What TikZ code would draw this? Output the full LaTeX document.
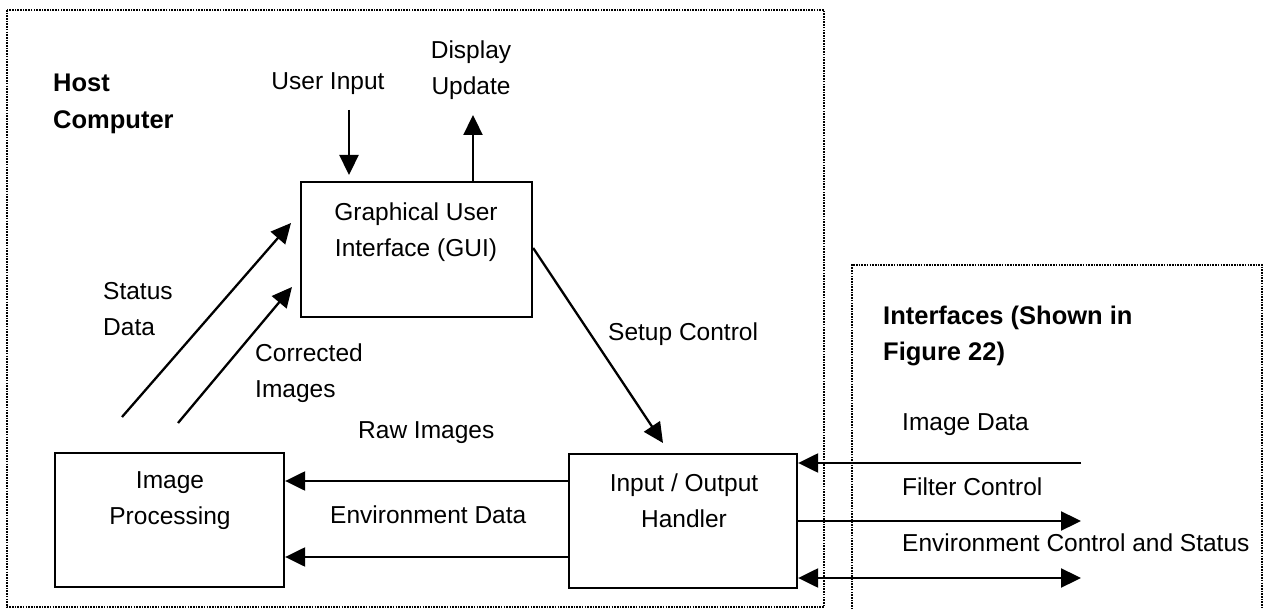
\documentclass[tikz,border=0pt]{standalone}
\usepackage{fontspec}
\setmainfont{Liberation Sans}
\usetikzlibrary{arrows.meta}
\tikzset{
  frame/.style={line width=1.6pt, dash pattern=on 1.6pt off 1.1pt},
  box/.style={draw, line width=2.3pt, inner sep=0pt},
  arr/.style={line width=2.3pt, -{Triangle[length=20pt,width=19pt]}},
  darr/.style={line width=2.3pt, {Triangle[length=20pt,width=19pt]}-{Triangle[length=20pt,width=19pt]}},
  txt/.style={font=\fontsize{24.5}{36}\selectfont, inner sep=0pt},
  btxt/.style={font=\fontsize{25.5}{36.5}\selectfont\bfseries, inner sep=0pt, align=left},
}
\begin{document}
\begin{tikzpicture}[x=1pt,y=-1pt]
\useasboundingbox (0,0) rectangle (1264,609);
% frames
\draw[frame] (7,10) rectangle (824,607);
\draw[frame] (852,612) -- (852,265) -- (1262,265) -- (1262,612);
% titles
\node[btxt, anchor=west] (host) at (53,104) {Host\\Computer};
\node[btxt, anchor=west] (intf) at (883,336) {Interfaces (Shown in\\Figure 22)};
% boxes
\node[box, minimum width=231pt, minimum height=135pt] (gui) at (416.5,249.5) {};
\node[txt, align=center] (guit) at (416,232) {Graphical User\\Interface (GUI)};
\node[box, minimum width=229pt, minimum height=134pt] (ip) at (169.5,520) {};
\node[txt, align=center] (ipt) at (170,501) {Image\\Processing};
\node[box, minimum width=228pt, minimum height=134pt] (io) at (683,521) {};
\node[txt, align=center] (iot) at (684,501) {Input / Output\\Handler};
% top arrows
\node[txt] (ui) at (328,84) {User Input};
\node[txt, align=center] (du) at (471,70) {Display\\Update};
\coordinate (uis) at (349,110);
\coordinate (uie) at (349,175);
\coordinate (dus) at (473,115);
\draw[arr] (uis) -- (uie);
\draw[arr] (gui.north -| dus) -- (dus);
% diagonal arrows
\coordinate (sd1) at (122,417);
\coordinate (sd2) at (291,223);
\coordinate (ci1) at (178,423);
\coordinate (ci2) at (292,287);
\draw[arr] (sd1) -- (sd2);
\draw[arr] (ci1) -- (ci2);
\node[txt, align=left, anchor=west] (sdl) at (103,309) {Status\\Data};
\node[txt, align=left, anchor=west] (cil) at (255,373) {Corrected\\Images};
\coordinate (sc1) at (gui.east |- 0,248);
\coordinate (sc2) at (663,443);
\draw[arr] (sc1) -- (sc2);
\node[txt, anchor=west] (scl) at (608,334) {Setup Control};
% horizontal arrows
\draw[arr] (io.west |- 0,481) -- (ip.east |- 0,481);
\draw[arr] (io.west |- 0,557) -- (ip.east |- 0,557);
\node[txt, anchor=west] (ril) at (358,433) {Raw Images};
\node[txt, anchor=west] (edl) at (330,515) {Environment Data};
\coordinate (idr) at (1081,463);
\coordinate (fcr) at (1081,521);
\coordinate (ecr) at (1081,578);
\draw[arr] (idr) -- (io.east |- idr);
\draw[arr] (io.east |- fcr) -- (fcr);
\draw[darr] (io.east |- ecr) -- (ecr);
\node[txt, anchor=west] (idl) at (902,425) {Image Data};
\node[txt, anchor=west] (fcl) at (902,487) {Filter Control};
\node[txt, anchor=west] (ecl) at (902,543) {Environment Control and Status};
\end{tikzpicture}
\end{document}
